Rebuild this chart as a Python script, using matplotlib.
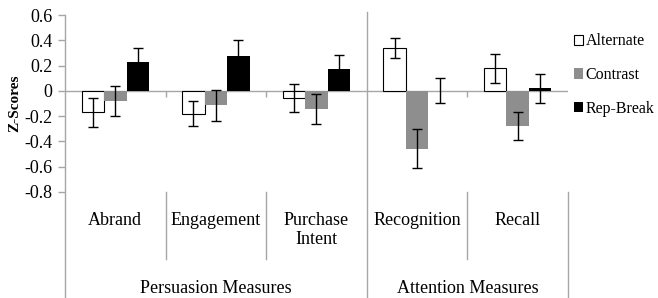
# Grouped bar chart of z-scores for persuasion and attention measures

import numpy as np
import matplotlib
matplotlib.use("Agg")
import matplotlib.pyplot as plt
from matplotlib.patches import Patch

categories = ["Abrand", "Engagement", "Purchase\nIntent", "Recognition", "Recall"]
groups = ["Persuasion Measures", "Attention Measures"]
series = ["Alternate", "Contrast", "Rep-Break"]

alternate = [-0.17, -0.18, -0.055, 0.34, 0.18]
contrast = [-0.08, -0.115, -0.145, -0.46, -0.28]
rep_break = [0.23, 0.28, 0.17, 0.0, 0.02]

alternate_err = [0.115, 0.10, 0.11, 0.08, 0.115]
contrast_err = [0.12, 0.125, 0.12, 0.155, 0.11]
rep_break_err = [0.11, 0.12, 0.115, 0.10, 0.115]

yticks = [0.6, 0.4, 0.2, 0, -0.2, -0.4, -0.6, -0.8]

plt.rcParams['font.family'] = ['Liberation Serif', 'DejaVu Serif']
grey_line = '#a6a6a6'

fig = plt.figure(figsize=(6.58, 2.98), dpi=100)
ax = fig.add_axes([0.0988, 0.3567, 0.7644, 0.592])

x = np.arange(len(categories))
w = 0.224
err_kw = dict(ecolor='black', elinewidth=1, capsize=3.5, capthick=1)

ax.bar(x - w, alternate, w, color='white', edgecolor='black', linewidth=0.8,
       yerr=alternate_err, error_kw=err_kw, zorder=3)
ax.bar(x, contrast, w, color='#8e8e8e', yerr=contrast_err, error_kw=err_kw, zorder=3)
ax.bar(x + w, rep_break, w, color='black', yerr=rep_break_err, error_kw=err_kw, zorder=3)

ax.set_xlim(-0.5, len(categories) - 0.5)
ax.set_ylim(-0.8, 0.6)
ax.set_yticks(yticks)
ax.set_yticklabels(["%g" % t for t in yticks], fontsize=13)
ax.set_xticks([])
ax.tick_params(axis='y', length=5, color=grey_line, width=1, pad=4)
for s in ax.spines.values():
    s.set_visible(False)

ax.axhline(0, color=grey_line, lw=1, zorder=1)
# little ticks on the zero line between categories
ax.vlines([0.5, 1.5, 3.5], -0.045, 0, color=grey_line, lw=1)

ax.set_ylabel("Z-Scores", fontsize=11, fontweight='bold', labelpad=2)

# separator lines below / through the chart (axes y coords, x in data)
trans = matplotlib.transforms.blended_transform_factory(ax.transData, ax.transAxes)
bottom = -0.6025
ax.plot([-0.5, -0.5], [1.0, bottom], transform=trans, color=grey_line, lw=1, clip_on=False)
ax.plot([2.5, 2.5], [1.02, bottom], transform=trans, color=grey_line, lw=1, clip_on=False)
ax.plot([4.5, 4.5], [0, bottom], transform=trans, color=grey_line, lw=1, clip_on=False)
for b in [0.5, 1.5, 3.5]:
    ax.plot([b, b], [0, -0.381], transform=trans, color=grey_line, lw=1, clip_on=False)

# category labels
for i, c in enumerate(categories):
    yy = -0.217 if "\n" in c else -0.164
    ax.text(i, yy, c, transform=trans, ha='center', va='center', fontsize=13,
            linespacing=1.1)

ax.text(1.0, -0.546, groups[0], transform=trans, ha='center', va='center', fontsize=13)
ax.text(3.5, -0.546, groups[1], transform=trans, ha='center', va='center', fontsize=13)

handles = [Patch(facecolor='white', edgecolor='black', linewidth=0.8),
           Patch(facecolor='#8e8e8e'),
           Patch(facecolor='black')]
fig.legend(handles, series, loc='upper left', bbox_to_anchor=(0.862, 0.91),
           frameon=False, prop={'family': 'Liberation Serif', 'size': 11.5},
           handlelength=0.6, handleheight=0.6,
           handletextpad=0.15, labelspacing=1.12, borderaxespad=0)

plt.savefig("out.png", dpi=100)
